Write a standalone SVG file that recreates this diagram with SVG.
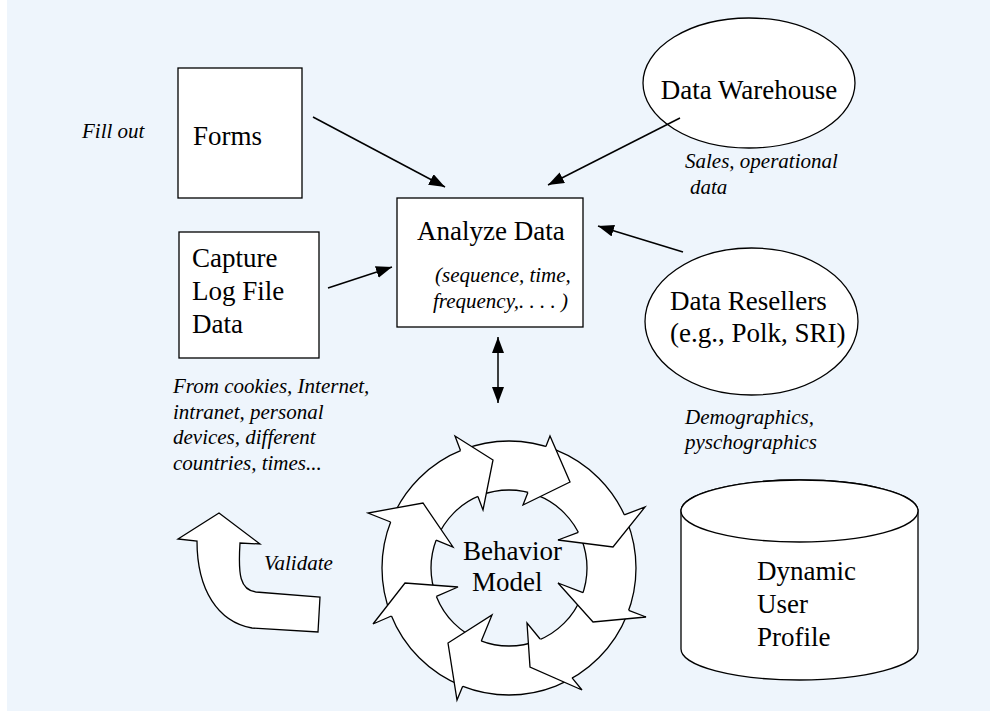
<svg xmlns="http://www.w3.org/2000/svg" width="990" height="711" viewBox="0 0 990 711">
<defs>
<marker id="ah" markerUnits="userSpaceOnUse" markerWidth="17" markerHeight="13" refX="16" refY="6" orient="auto-start-reverse">
<path d="M0,0 L16,6 L0,12 Z" fill="#000"/>
</marker>
<style>
.shape{fill:#fff;stroke:#000;stroke-width:1.3}
.head{fill:#fff;stroke:#000;stroke-width:1.3;stroke-linejoin:miter}
.lbl{font-family:"Liberation Serif","Times New Roman",serif;font-size:27px;fill:#000}
.it{font-family:"Liberation Serif","Times New Roman",serif;font-size:21px;font-style:italic;fill:#000}
.conn{stroke:#000;stroke-width:1.5;fill:none;marker-end:url(#ah)}
</style>
</defs>
<rect x="0" y="0" width="990" height="711" fill="#fff"/>
<rect x="7" y="0" width="983" height="711" fill="#EEF5FC"/>

<g id="forms">
<rect class="shape" x="178" y="68" width="124" height="130"/>
<text class="lbl" x="193" y="145">Forms</text>
</g>
<text class="it" x="82" y="138">Fill out</text>

<g id="capture">
<rect class="shape" x="179" y="232" width="140" height="126"/>
<text class="lbl" x="192" y="267">Capture</text>
<text class="lbl" x="192" y="300">Log File</text>
<text class="lbl" x="192" y="333">Data</text>
</g>
<g id="capture-note">
<text class="it" x="173" y="393">From cookies, Internet,</text>
<text class="it" x="173" y="419">intranet, personal</text>
<text class="it" x="173" y="444">devices, different</text>
<text class="it" x="173" y="470">countries, times...</text>
</g>

<g id="analyze">
<rect class="shape" x="397" y="198" width="186" height="129"/>
<text class="lbl" x="417" y="240">Analyze Data</text>
<text class="it" x="435" y="282">(sequence, time,</text>
<text class="it" x="433" y="308">frequency,. . . . )</text>
</g>

<g id="warehouse">
<ellipse class="shape" cx="749" cy="83" rx="106" ry="65"/>
<text class="lbl" x="749" y="99" text-anchor="middle">Data Warehouse</text>
</g>
<g id="warehouse-note">
<text class="it" x="685" y="168">Sales, operational</text>
<text class="it" x="690" y="194">data</text>
</g>

<g id="resellers">
<ellipse class="shape" cx="751.5" cy="321.5" rx="106.5" ry="73.5"/>
<text class="lbl" x="670" y="310">Data Resellers</text>
<text class="lbl" x="670" y="342">(e.g., Polk, SRI)</text>
</g>
<g id="resellers-note">
<text class="it" x="685" y="424">Demographics,</text>
<text class="it" x="685" y="449">pyschographics</text>
</g>

<g id="profile">
<path class="shape" d="M681,511 L681,649 A118.5,31 0 0 0 918,649 L918,511 A118.5,31 0 0 0 681,511 Z"/>
<ellipse class="shape" cx="799.5" cy="511" rx="118.5" ry="31"/>
<text class="lbl" x="757" y="580">Dynamic</text>
<text class="lbl" x="757" y="613">User</text>
<text class="lbl" x="757" y="646">Profile</text>
</g>

<g id="behavior">
<path class="shape" fill-rule="evenodd" d="M636,568 A127,127 0 1 0 382,568 A127,127 0 1 0 636,568 Z M587,568 A78,78 0 1 0 431,568 A78,78 0 1 0 587,568 Z"/>
<path class="head" d="M628.7,610.3 L646,617 L593,622 L558,583 L583,592.7"/>
<path class="head" d="M572.1,677.9 L582,690 L530,667 L527,623 L540.1,639"/>
<path class="head" d="M462.7,686.2 L457,700 L448,643 L492,615 L481.3,640.9"/>
<path class="head" d="M391.4,616 L373,624 L405,583 L458,587 L436.4,596.4"/>
<path class="head" d="M390.6,522 L368,513 L423,503 L453,547 L436.1,540.2"/>
<path class="head" d="M460.5,450.6 L455,436 L493,460 L483,510 L477.9,496.5"/>
<path class="head" d="M545.9,446.5 L550,436 L570,482 L523,505 L527.9,492.4"/>
<path class="head" d="M624.3,514.9 L645,507 L613,547 L558,540 L578.3,532.3"/>
<text class="lbl" x="463" y="560">Behavior</text>
<text class="lbl" x="472" y="591">Model</text>
</g>

<g id="validate">
<path class="shape" d="M178,539 L219,513 L260,544 L240,543 C238,575 240,590 256,592 L320,597 L318,632 L252,628 C218,622 197,590 197,541 Z"/>
<text class="it" x="264" y="570">Validate</text>
</g>

<g id="connectors">
<line class="conn" x1="313" y1="117" x2="445" y2="187"/>
<line class="conn" x1="680" y1="118" x2="548" y2="185"/>
<line class="conn" x1="328" y1="288" x2="392" y2="267"/>
<line class="conn" x1="683" y1="252" x2="598" y2="226"/>
<line class="conn" x1="498" y1="370" x2="498" y2="403"/>
<line class="conn" x1="498" y1="370" x2="498" y2="337"/>
</g>
</svg>
